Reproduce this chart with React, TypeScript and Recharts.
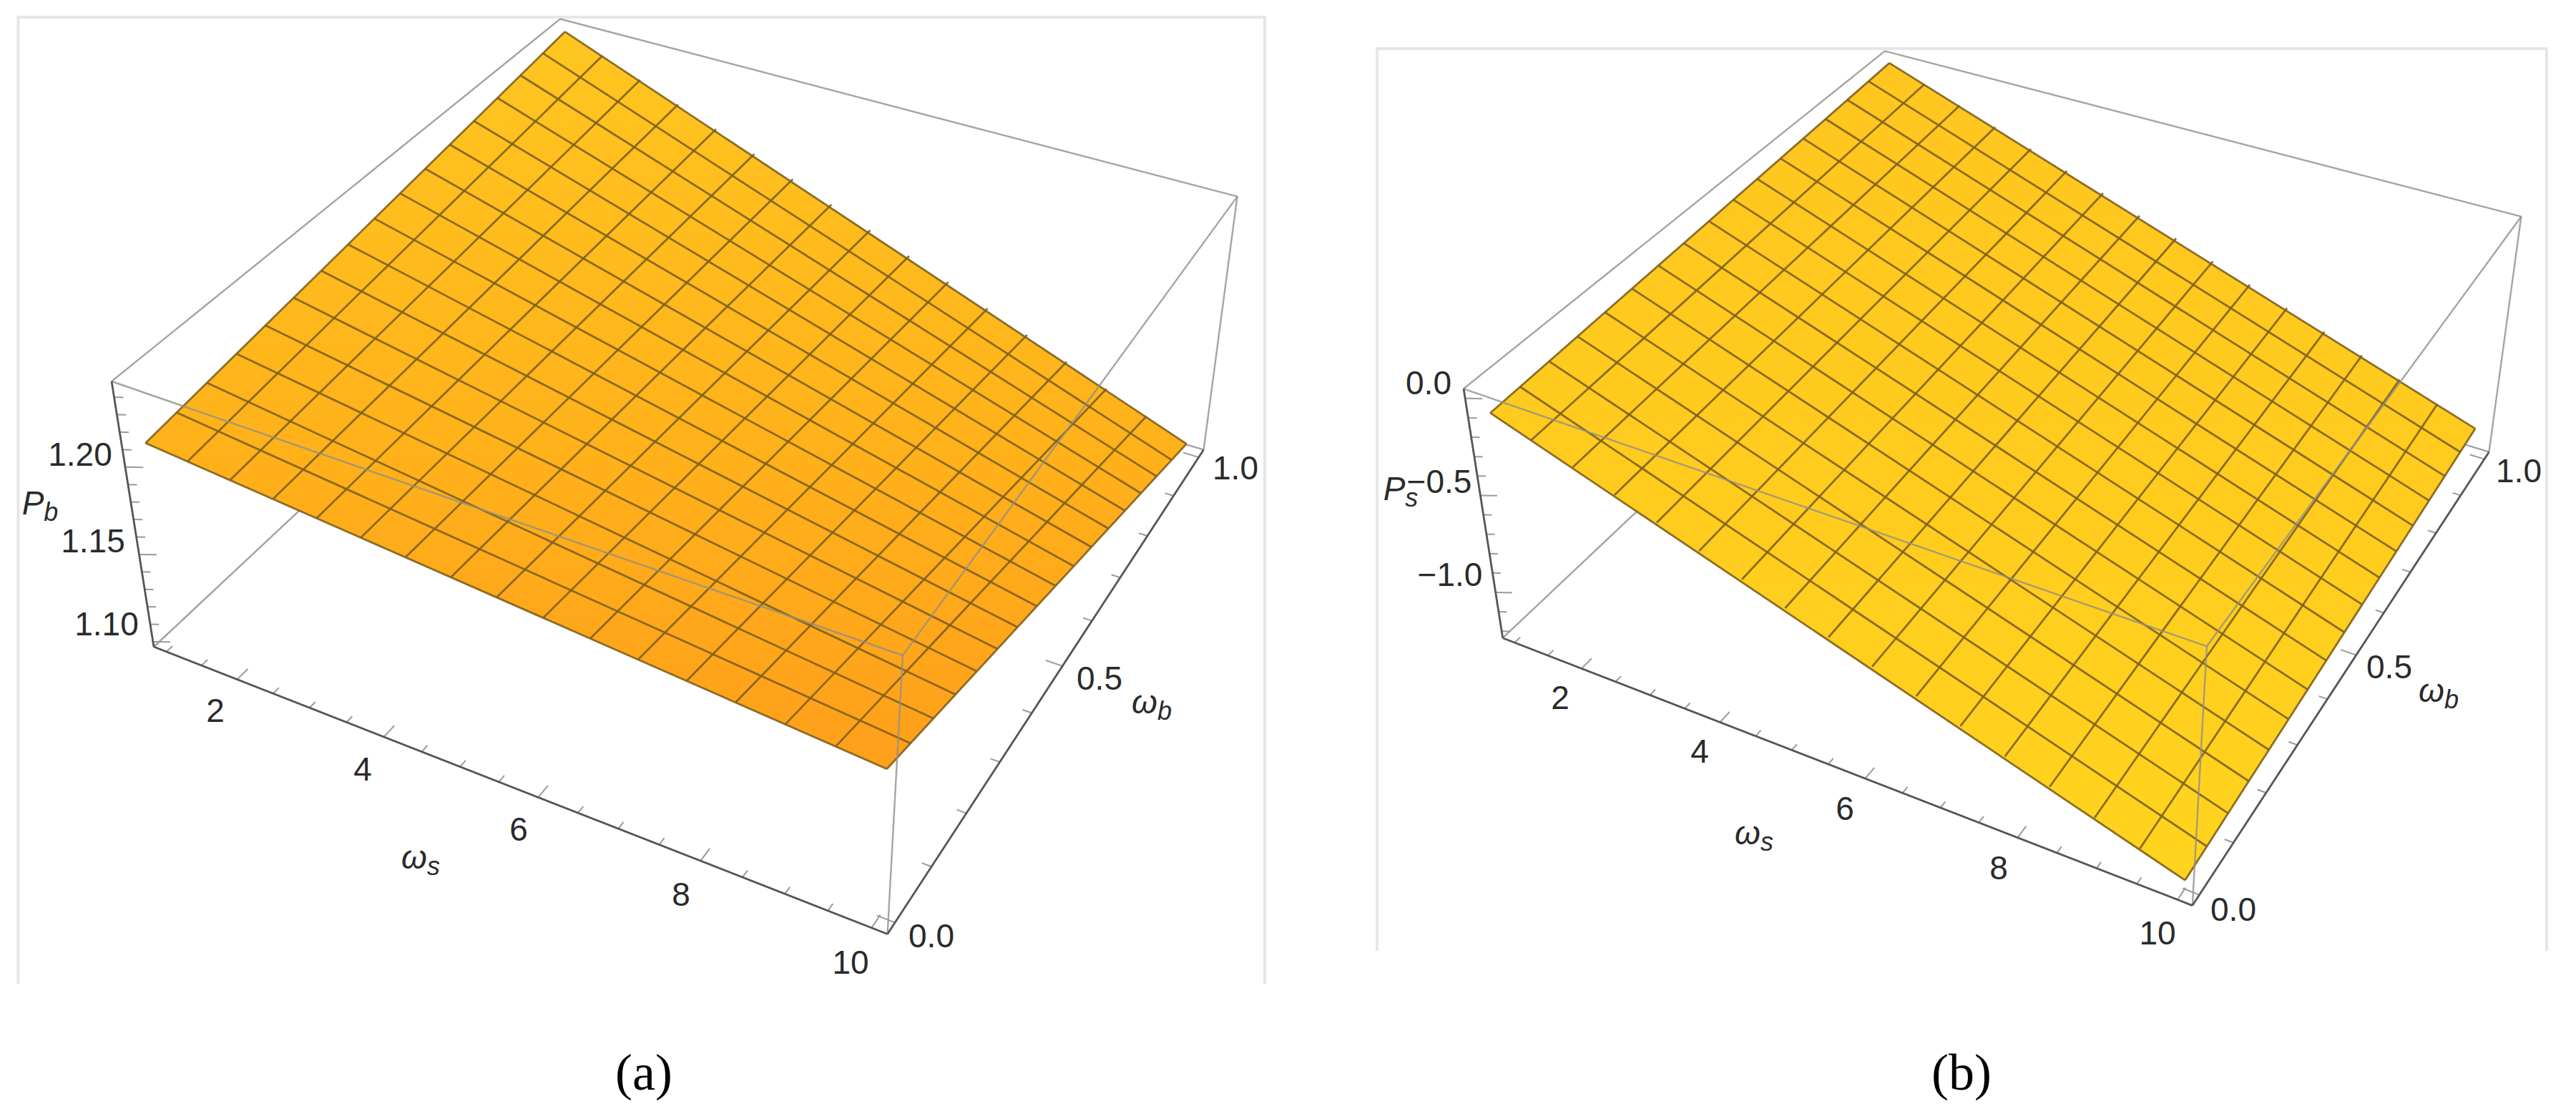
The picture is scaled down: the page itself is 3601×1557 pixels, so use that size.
import { Area, ComposedChart, Line, Scatter, XAxis, YAxis } from "recharts";

// mesh positions shared by both surfaces
const omegaSMesh = [1, 1.5625, 2.125, 2.6875, 3.25, 3.8125, 4.375, 4.9375, 5.5, 6.0625, 6.625, 7.1875, 7.75, 8.3125, 8.875, 9.4375, 10];
const omegaBMesh = [0, 0.0625, 0.125, 0.1875, 0.25, 0.3125, 0.375, 0.4375, 0.5, 0.5625, 0.625, 0.6875, 0.75, 0.8125, 0.875, 0.9375, 1];

// tick values
const omegaSTicks = [1, 1.5, 2, 2.5, 3, 3.5, 4, 4.5, 5, 5.5, 6, 6.5, 7, 7.5, 8, 8.5, 9, 9.5, 10];
const omegaSMajor = [2, 4, 6, 8, 10];
const omegaBTicks = [0, 0.1, 0.2, 0.3, 0.4, 0.5, 0.6, 0.7, 0.8, 0.9, 1];
const omegaBMajor = [0, 0.5, 1];
const pbTicks = [1.1, 1.11, 1.12, 1.13, 1.14, 1.15, 1.16, 1.17, 1.18, 1.19, 1.2, 1.21, 1.22, 1.23, 1.24];
const pbMajor = [1.1, 1.15, 1.2];
const psTicks = [-1.2, -1.1, -1, -0.9, -0.8, -0.7, -0.6, -0.5, -0.4, -0.3, -0.2, -0.1, 0];
const psMajor = [-1, -0.5, 0];

// Pb read along the four edges of surface (a)
const pbFront = [1.2115, 1.2094, 1.2073, 1.2052, 1.2031, 1.201, 1.1989, 1.1968, 1.1947, 1.1926, 1.1905, 1.1884, 1.1862, 1.1841, 1.182, 1.1799, 1.1777];
const pbBack = [1.2466, 1.2376, 1.2286, 1.2196, 1.2106, 1.2016, 1.1926, 1.1836, 1.1746, 1.1656, 1.1566, 1.1476, 1.1387, 1.1297, 1.1207, 1.1117, 1.1027];
const pbLeft = [1.2115, 1.2137, 1.2159, 1.2181, 1.2203, 1.2225, 1.2247, 1.2269, 1.2291, 1.2313, 1.2335, 1.2357, 1.2379, 1.2401, 1.2423, 1.2445, 1.2466];
const pbRight = [1.1777, 1.173, 1.1683, 1.1636, 1.1589, 1.1542, 1.1495, 1.1448, 1.1402, 1.1355, 1.1308, 1.1261, 1.1214, 1.1167, 1.112, 1.1073, 1.1027];

// Ps read along the four edges of surface (b)
const psFront = [-0.094, -0.163, -0.231, -0.3, -0.368, -0.437, -0.505, -0.574, -0.643, -0.711, -0.78, -0.848, -0.917, -0.985, -1.054, -1.122, -1.191];
const psBack = [0.028, -0.042, -0.112, -0.182, -0.252, -0.321, -0.391, -0.461, -0.531, -0.601, -0.671, -0.741, -0.811, -0.88, -0.95, -1.02, -1.09];
const psLeft = [-0.094, -0.086, -0.079, -0.071, -0.064, -0.056, -0.048, -0.041, -0.033, -0.025, -0.018, -0.01, -0.003, 0.005, 0.013, 0.02, 0.028];
const psRight = [-1.191, -1.185, -1.178, -1.172, -1.166, -1.159, -1.153, -1.147, -1.141, -1.134, -1.128, -1.122, -1.115, -1.109, -1.103, -1.096, -1.09];

// tick label text
const sLabels = ["2", "4", "6", "8", "10"];
const bLabels = ["0.0", "0.5", "1.0"];
const pbLabels = ["1.10", "1.15", "1.20"];
const psLabels = ["\u22121.0", "\u22120.5", "0.0"];

type Pt = { x: number; y: number };

function quadMap(q: number[][], u: number, v: number): Pt {
  const [[x0, y0], [x1, y1], [x2, y2], [x3, y3]] = q;
  const dx1 = x1 - x2, dx2 = x3 - x2, sx = x0 - x1 + x2 - x3;
  const dy1 = y1 - y2, dy2 = y3 - y2, sy = y0 - y1 + y2 - y3;
  const den = dx1 * dy2 - dx2 * dy1;
  const g = (sx * dy2 - dx2 * sy) / den;
  const h = (dx1 * sy - sx * dy1) / den;
  const t = g * u + h * v + 1;
  return {
    x: ((x1 - x0 + g * x1) * u + (x3 - x0 + h * x3) * v + x0) / t,
    y: ((y1 - y0 + g * y1) * u + (y3 - y0 + h * y3) * v + y0) / t,
  };
}

const panelA = {
  left: 0,
  width: 1860,
  floor: [[215, 904], [1240.6, 1305.5], [1682.6, 628.6], [796, 360]],
  roof: [[156, 533], [1262, 916], [1729.6, 274.6], [783, 26.5]],
  pRange: [1.0971, 1.2491],
  frame: [[25.5, 1375], [25.5, 24], [1768, 24], [1768, 1375]],
  gradient: ["#ffc620", "#ffb21a", "#ff9f1b"],
  pFront: pbFront, pBack: pbBack, pLeft: pbLeft, pRight: pbRight,
  pTicks: pbTicks, pMajor: pbMajor,
  pLabels: pbLabels,
  pAt: [[149, 872], [130, 756], [112, 635]],
  sAt: [[301, 993], [507, 1075], [725, 1159], [952, 1250], [1189, 1345]],
  bAt: [[1302, 1308], [1537, 948], [1727, 654]],
  pName: { base: "P", sub: "b", x: 56, y: 703 },
  sName: { base: "\u03c9", sub: "s", x: 588, y: 1198 },
  bName: { base: "\u03c9", sub: "b", x: 1610, y: 981 },
  caption: { text: "(a)", x: 900, y: 1499 },
};

const panelB = {
  left: 1860,
  width: 1741,
  floor: [[2100.7, 891.7], [3064.8, 1265.6], [3479.4, 631.7], [2645, 378]],
  roof: [[2046, 543.3], [3084.9, 903.3], [3524.4, 302.7], [2634.8, 71.4]],
  pRange: [-1.235, 0.05],
  frame: [[1925, 1329], [1925, 68], [3560, 68], [3560, 1329]],
  gradient: ["#ffc61f", "#ffcc1e", "#ffd41e"],
  pFront: psFront, pBack: psBack, pLeft: psLeft, pRight: psRight,
  pTicks: psTicks, pMajor: psMajor,
  pLabels: psLabels,
  pAt: [[2027, 803], [2012, 673], [1997, 535]],
  sAt: [[2181, 975], [2376, 1050], [2579, 1130], [2794, 1213], [3016, 1304]],
  bAt: [[3122, 1271], [3340, 932], [3521, 658]],
  pName: { base: "P", sub: "s", x: 1958, y: 683 },
  sName: { base: "\u03c9", sub: "s", x: 2452, y: 1164 },
  bName: { base: "\u03c9", sub: "b", x: 3409, y: 965 },
  caption: { text: "(b)", x: 2742, y: 1499 },
};

const S_RANGE = [0.82, 10.18];
const B_RANGE = [-0.02, 1.02];

function Panel({ panel, id }: { panel: typeof panelA; id: string }) {
  const [pLo, pHi] = panel.pRange;
  const norm = (s: number, b: number) => [
    (s - S_RANGE[0]) / (S_RANGE[1] - S_RANGE[0]),
    (b - B_RANGE[0]) / (B_RANGE[1] - B_RANGE[0]),
  ];
  const fromUV = (u: number, v: number, w: number): Pt => {
    const lo = quadMap(panel.floor, u, v);
    const hi = quadMap(panel.roof, u, v);
    return { x: lo.x + (hi.x - lo.x) * w, y: lo.y + (hi.y - lo.y) * w };
  };
  const project = (s: number, b: number, p: number): Pt => {
    const [u, v] = norm(s, b);
    return fromUV(u, v, (p - pLo) / (pHi - pLo));
  };

  // surface outline as an x-sorted band
  const sL = project(1, 0, panel.pFront[0]);
  const sT = project(1, 1, panel.pBack[0]);
  const sB = project(10, 0, panel.pFront[16]);
  const sR = project(10, 1, panel.pBack[16]);
  const yOn = (a: Pt, b: Pt, x: number) => a.y + ((b.y - a.y) * (x - a.x)) / (b.x - a.x);
  const upper = (x: number) => (x < sT.x ? yOn(sL, sT, x) : yOn(sT, sR, x));
  const lower = (x: number) => (x < sB.x ? yOn(sL, sB, x) : yOn(sB, sR, x));
  const band = [sL, sT, sB, sR]
    .map((c) => c.x)
    .sort((a, b) => a - b)
    .map((x) => ({ x, band: [upper(x), lower(x)] }));

  const mesh: Pt[][] = [
    ...omegaSMesh.map((s, i) => [project(s, 0, panel.pFront[i]), project(s, 1, panel.pBack[i])]),
    ...omegaBMesh.map((b, i) => [project(1, b, panel.pLeft[i]), project(10, b, panel.pRight[i])]),
  ];

  const behind = [
    [fromUV(0, 0, 0), fromUV(0, 1, 0)],
    [fromUV(1, 1, 0), fromUV(0, 1, 0)],
  ];
  const front = [
    [fromUV(0, 0, 1), fromUV(0, 1, 1)],
    [fromUV(0, 1, 1), fromUV(1, 1, 1)],
    [fromUV(0, 0, 1), fromUV(1, 0, 1)],
    [fromUV(1, 0, 1), fromUV(1, 1, 1)],
    [fromUV(1, 0, 0), fromUV(1, 0, 1)],
    [fromUV(1, 1, 0), fromUV(1, 1, 1)],
  ];
  const axes = [
    [fromUV(0, 0, 0), fromUV(0, 0, 1)],
    [fromUV(0, 0, 0), fromUV(1, 0, 0)],
    [fromUV(1, 0, 0), fromUV(1, 1, 0)],
  ];

  const pW = (p: number) => (p - pLo) / (pHi - pLo);
  const ticks: Pt[][] = [
    ...omegaSTicks.map((s) => {
      const [u] = norm(s, 0);
      return [fromUV(u, 0, 0), fromUV(u, omegaSMajor.includes(s) ? 0.022 : 0.012, 0)];
    }),
    ...omegaBTicks.map((b) => {
      const [, v] = norm(1, b);
      return [fromUV(1, v, 0), fromUV(omegaBMajor.includes(b) ? 0.978 : 0.988, v, 0)];
    }),
    ...panel.pTicks.map((p) => {
      const k = panel.pMajor.includes(p) ? 2 : 1;
      return [fromUV(0, 0, pW(p)), fromUV(0.0095 * k, 0.0048 * k, pW(p))];
    }),
  ];

  const tickText = [
    ...sLabels.map((text, i) => ({ text, x: panel.sAt[i][0], y: panel.sAt[i][1] })),
    ...bLabels.map((text, i) => ({ text, x: panel.bAt[i][0], y: panel.bAt[i][1] })),
    ...panel.pLabels.map((text, i) => ({ text, x: panel.pAt[i][0], y: panel.pAt[i][1] })),
  ];
  const frame = panel.frame.map(([x, y]) => ({ x, y }));

  const seg = (pts: Pt[], key: string, stroke: string, w: number, opacity = 1) => (
    <Line
      key={key}
      data={pts}
      dataKey="y"
      type="linear"
      stroke={stroke}
      strokeWidth={w}
      strokeOpacity={opacity}
      dot={false}
      activeDot={false}
      legendType="none"
      isAnimationActive={false}
    />
  );
  const layer = { position: "absolute", left: panel.left, top: 0 } as const;
  const margin = { top: 0, right: 0, bottom: 0, left: 0 };
  const xDomain = [panel.left, panel.left + panel.width];

  return (
    <>
      {/* Recharts paints areas under lines, so what the surface hides goes in its own chart underneath */}
      <div style={layer}>
        <ComposedChart width={panel.width} height={1557} margin={margin}>
          <XAxis type="number" dataKey="x" domain={xDomain} hide />
          <YAxis type="number" dataKey="y" domain={[0, 1557]} reversed hide />
          {seg(frame, "frame", "#e6e6e6", 4)}
          {behind.map((pts, i) => seg(pts, `behind${i}`, "#a2a2a2", 2.4))}
        </ComposedChart>
      </div>
      <div style={layer}>
        <ComposedChart width={panel.width} height={1557} margin={margin}>
          <defs>
            <linearGradient id={id} x1="0" y1="0" x2="0" y2="1">
              <stop offset="0" stopColor={panel.gradient[0]} />
              <stop offset="0.55" stopColor={panel.gradient[1]} />
              <stop offset="1" stopColor={panel.gradient[2]} />
            </linearGradient>
          </defs>
          <XAxis type="number" dataKey="x" domain={xDomain} hide />
          <YAxis type="number" dataKey="y" domain={[0, 1557]} reversed hide />
          <Area
            data={band}
            dataKey="band"
            type="linear"
            fill={`url(#${id})`}
            fillOpacity={1}
            stroke="none"
            dot={false}
            activeDot={false}
            legendType="none"
            isAnimationActive={false}
          />
          {mesh.map((pts, i) => seg(pts, `mesh${i}`, "#80601c", 2.8, 0.9))}
          {front.map((pts, i) => seg(pts, `front${i}`, "#8f8f8a", 2.4, 0.8))}
          {ticks.map((pts, i) => seg(pts, `tick${i}`, "#9a9a9a", 2))}
          {axes.map((pts, i) => seg(pts, `axis${i}`, "#555555", 2.8))}

          <Scatter
            data={tickText}
            isAnimationActive={false}
            legendType="none"
            shape={(p: any) => (
              <text x={p.cx} y={p.cy} textAnchor="middle" dominantBaseline="central" fontFamily="Liberation Sans" fontSize={46} fill="#2a2a2a">
                {p.payload.text}
              </text>
            )}
          />
          <Scatter
            data={[panel.pName, panel.sName, panel.bName]}
            isAnimationActive={false}
            legendType="none"
            shape={(p: any) => (
              <text x={p.cx} y={p.cy} textAnchor="middle" dominantBaseline="central" fontFamily="Liberation Sans" fontStyle="italic" fontSize={46} fill="#2a2a2a">
                {p.payload.base}
                <tspan fontSize={36} dy={12}>{p.payload.sub}</tspan>
              </text>
            )}
          />
          <Scatter
            data={[panel.caption]}
            isAnimationActive={false}
            legendType="none"
            shape={(p: any) => (
              <text x={p.cx} y={p.cy} textAnchor="middle" dominantBaseline="central" fontFamily="Liberation Serif" fontSize={72} fill="#000">
                {p.payload.text}
              </text>
            )}
          />
        </ComposedChart>
      </div>
    </>
  );
}

export default function App() {
  return (
    <div style={{ position: "absolute", left: 0, top: 0, width: 3601, height: 1557, background: "#fff" }}>
      <Panel panel={panelA} id="surfaceA" />
      <Panel panel={panelB} id="surfaceB" />
    </div>
  );
}
